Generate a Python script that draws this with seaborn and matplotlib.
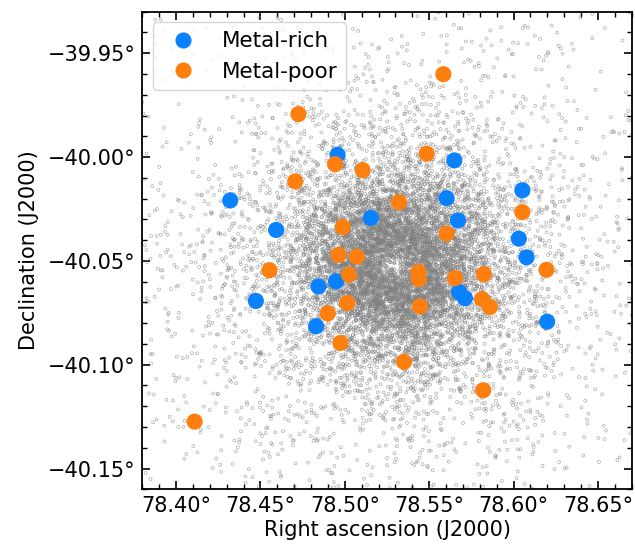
import numpy as np
import pandas as pd
import matplotlib
matplotlib.use("Agg")
import matplotlib.pyplot as plt
import seaborn as sns
from matplotlib.ticker import FuncFormatter, MultipleLocator

# ---- target stars ----
rich_ra = [78.4957, 78.5649, 78.4321, 78.6052, 78.5603, 78.5154, 78.5671, 78.4593,
           78.6031, 78.6077, 78.4844, 78.4948, 78.4473, 78.5677, 78.5712, 78.4830, 78.6199]
rich_dec = [-39.9989, -40.0016, -40.0209, -40.0160, -40.0198, -40.0293, -40.0305, -40.0351,
            -40.0393, -40.0483, -40.0623, -40.0599, -40.0693, -40.0650, -40.0680, -40.0815, -40.0793]

poor_ra = [78.5584, 78.4725, 78.5485, 78.4942, 78.5106, 78.4706, 78.5321, 78.6052,
           78.4988, 78.5603, 78.4963, 78.5071, 78.4554, 78.5025, 78.5436, 78.5438,
           78.5653, 78.5824, 78.6195, 78.5015, 78.4899, 78.5445, 78.5814, 78.5860,
           78.4974, 78.5351, 78.5820, 78.4110]
poor_dec = [-39.9601, -39.9793, -39.9984, -40.0034, -40.0063, -40.0117, -40.0217, -40.0265,
            -40.0337, -40.0369, -40.0471, -40.0480, -40.0545, -40.0567, -40.0553, -40.0588,
            -40.0583, -40.0564, -40.0543, -40.0703, -40.0753, -40.0719, -40.0684, -40.0722,
            -40.0895, -40.0986, -40.1123, -40.1274]

groups = ["Metal-rich", "Metal-poor"]
group_colors = ["#0a81ff", "#ff7f0e"]

# ---- background field: individual stars cannot be read, so the cloud is
# rebuilt from its visible centre, core size and extent (fixed seed) ----
field_center_ra = 78.530
field_center_dec = -40.052
field_core = 0.027
field_n_cluster = 11500
field_n_uniform = 250

rng = np.random.default_rng(1851)
u = rng.uniform(0.0, 0.995, field_n_cluster)
u = np.clip(u, 1e-9, None)
r = field_core / np.sqrt(u ** (-2.0 / 3.0) - 1.0)
th = rng.uniform(0, 2 * np.pi, field_n_cluster)
cosd = np.cos(np.deg2rad(field_center_dec))
bg_ra = np.concatenate([field_center_ra + r * np.cos(th) / cosd,
                        rng.uniform(78.38, 78.67, field_n_uniform)])
bg_dec = np.concatenate([field_center_dec + r * np.sin(th),
                         rng.uniform(-40.16, -39.93, field_n_uniform)])
bg = pd.DataFrame({"ra": bg_ra, "dec": bg_dec})

stars = pd.DataFrame({
    "ra": rich_ra + poor_ra,
    "dec": rich_dec + poor_dec,
    "group": [groups[0]] * len(rich_ra) + [groups[1]] * len(poor_ra),
})

sns.set_style("white")
plt.rcParams["font.family"] = ["DejaVu Sans"]
plt.rcParams["text.color"] = "black"
plt.rcParams["axes.labelcolor"] = "black"
plt.rcParams["xtick.color"] = "black"
plt.rcParams["ytick.color"] = "black"

fig = plt.figure(figsize=(6.35, 5.47), dpi=100)
ax = fig.add_axes([0.2241, 0.1055, 0.7707, 0.8731])

sns.scatterplot(data=bg, x="ra", y="dec", ax=ax, marker="o", s=4.5,
                facecolor="none", edgecolor="#808080", linewidth=0.45,
                alpha=0.7, legend=False, zorder=1)

sns.scatterplot(data=stars, x="ra", y="dec", hue="group", hue_order=groups,
                palette=group_colors, s=135, linewidth=0, ax=ax, zorder=3)

ax.set_xlim(78.38, 78.67)
ax.set_ylim(-40.16, -39.93)

def deg_fmt(v, pos):
    return f"{v:.2f}°".replace("-", "\u2212")

ax.xaxis.set_major_locator(MultipleLocator(0.05))
ax.xaxis.set_minor_locator(MultipleLocator(0.01))
ax.yaxis.set_major_locator(MultipleLocator(0.05))
ax.yaxis.set_minor_locator(MultipleLocator(0.01))
ax.xaxis.set_major_formatter(FuncFormatter(deg_fmt))
ax.yaxis.set_major_formatter(FuncFormatter(deg_fmt))

ax.tick_params(which="both", direction="in", top=True, right=True,
               bottom=True, left=True, color="black", labelcolor="black")
ax.tick_params(which="major", length=6, width=1.2, labelsize=15, pad=5)
ax.tick_params(which="minor", length=3.5, width=1.0)
for sp in ax.spines.values():
    sp.set_color("black")
    sp.set_linewidth(1.3)

ax.set_xlabel("Right ascension (J2000)", fontsize=15, labelpad=3, color="black")
ax.set_ylabel("Declination (J2000)", fontsize=15, labelpad=6, color="black")

leg = ax.legend(loc="upper left", fontsize=15.5, frameon=True, framealpha=0.8,
                edgecolor="#cccccc", handletextpad=0.8, borderaxespad=0.5)
for t in leg.get_texts():
    t.set_color("black")
for h in leg.legend_handles:
    try:
        h.set_sizes([135])
    except AttributeError:
        h.set_markersize(11.6)

fig.savefig("out.png", dpi=100)
